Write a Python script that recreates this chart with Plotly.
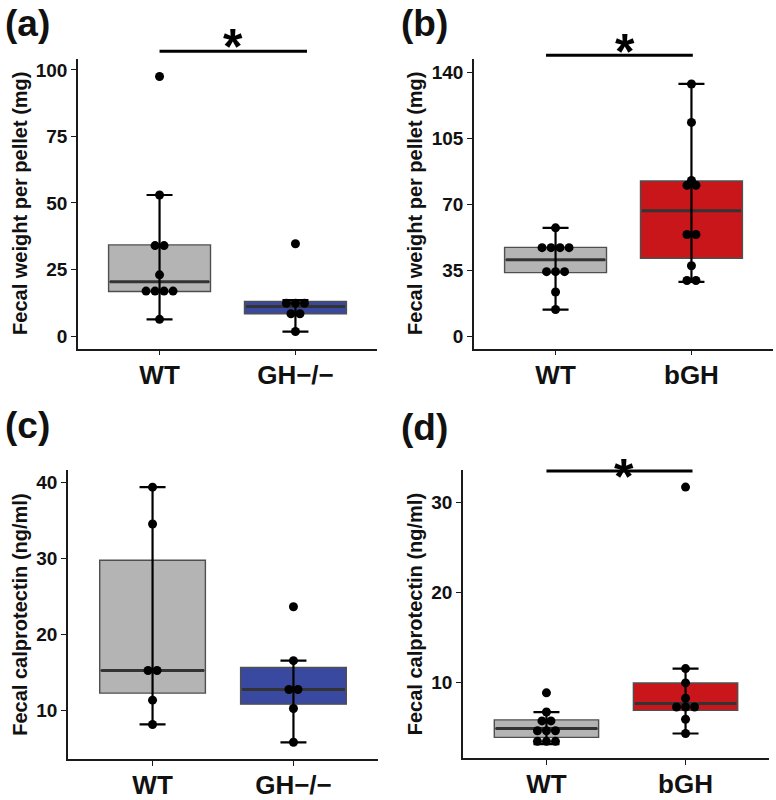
import numpy as np
import plotly.graph_objects as go

# ---------------- data ----------------
panel_letters = ["(a)", "(b)", "(c)", "(d)"]
y_titles = ["Fecal weight per pellet (mg)", "Fecal weight per pellet (mg)",
            "Fecal calprotectin (ng/ml)", "Fecal calprotectin (ng/ml)"]
categories_a = ["WT", "GH\u2212/\u2212"]
categories_b = ["WT", "bGH"]
categories_c = ["WT", "GH\u2212/\u2212"]
categories_d = ["WT", "bGH"]

a_wt = [97.5, 53.0, 33.5, 34.5, 23.0, 16.0, 16.6, 17.2, 17.8, 6.3]
a_gh = [34.7, 13.5, 12.5, 11.1, 9.0, 7.8, 1.7]
b_wt = [57.4, 46.0, 46.6, 47.2, 47.8, 33.5, 34.2, 34.9, 23.4, 14.1]
b_bgh = [133.7, 113.3, 82.5, 81.6, 78.4, 54.6, 53.2, 37.3, 30.2, 28.8]
c_wt = [39.35, 34.5, 15.0, 15.4, 11.3, 8.1]
c_gh = [23.6, 16.5, 12.5, 12.9, 10.2, 5.75]
d_wt = [8.8, 6.66, 5.45, 5.9, 4.25, 4.75, 4.9, 3.1, 3.4, 3.7]
d_bgh = [31.7, 11.5, 9.9, 8.2, 6.85, 7.2, 7.6, 5.86, 4.27]

yticks_a = [0, 25, 50, 75, 100]
yticks_b = [0, 35, 70, 105, 140]
yticks_c = [10, 20, 30, 40]
yticks_d = [10, 20, 30]

significant = [True, True, False, True]

# ---------------- styling / layout ----------------
W, H = 776, 800
FONT = "Liberation Sans, Arial, Helvetica, sans-serif"
GREY, BLUE, RED = "#b4b4b4", "#3a49a0", "#c9161b"
BOX_LINE = "#4f4f4f"
MEDIAN = "#333333"
DOT_PX = 9.0
BOX_W = 0.75
XRANGE = [-0.6, 1.6]

panels = [
    dict(cats=categories_a, groups=[a_wt, a_gh], colors=[GREY, BLUE], yticks=yticks_a,
         xpx=(78, 377), ypx=(60, 353), yrange=[-4.7, 104.0],
         title_x=20, label=(3, 24), sig=(0.0, 1.085, 52, 0.54, 48)),
    dict(cats=categories_b, groups=[b_wt, b_bgh], colors=[GREY, RED], yticks=yticks_b,
         xpx=(474, 773), ypx=(60, 353), yrange=[-6.6, 146.8],
         title_x=415, label=(399, 24), sig=(-0.07, 1.01, 56, 0.51, 53)),
    dict(cats=categories_c, groups=[c_wt, c_gh], colors=[GREY, BLUE], yticks=yticks_c,
         xpx=(68, 378), ypx=(476, 769), yrange=[3.5, 41.6],
         title_x=20, label=(3, 431), sig=None),
    dict(cats=categories_d, groups=[d_wt, d_bgh], colors=[GREY, RED], yticks=yticks_d,
         xpx=(463, 769), ypx=(476, 768), yrange=[1.5, 33.6],
         title_x=415, label=(399, 433), sig=(0.0, 1.05, 477, 0.56, 483)),
]


def box_stats(vals):
    v = np.sort(np.asarray(vals, dtype=float))
    q1, med, q3 = np.percentile(v, [25, 50, 75])
    iqr = q3 - q1
    lo = v[v >= q1 - 1.5 * iqr].min()
    hi = v[v <= q3 + 1.5 * iqr].max()
    return q1, med, q3, lo, hi


def dot_bins(vals, binwidth):
    """ggplot2 'dotdensity' binning: returns list of (center, count)."""
    v = np.sort(np.asarray(vals, dtype=float))
    bins, cur, end = [], [], -np.inf
    for x in v:
        if x >= end:
            if cur:
                bins.append(cur)
            cur = []
            end = x + binwidth
        cur.append(x)
    if cur:
        bins.append(cur)
    return [((min(b) + max(b)) / 2.0, len(b)) for b in bins]


fig = go.Figure()
layout = dict(width=W, height=H, margin=dict(l=0, r=0, t=0, b=0), autosize=False,
              paper_bgcolor="white", plot_bgcolor="white", showlegend=False,
              font=dict(family=FONT, color="black"), boxmode="overlay")
annotations, shapes = [], []

for i, p in enumerate(panels):
    k = "" if i == 0 else str(i + 1)
    xa, ya = "x" + k, "y" + k
    x0, x1 = p["xpx"]
    y0, y1 = p["ypx"]
    px_per_x = (x1 - x0) / (XRANGE[1] - XRANGE[0])
    dx = DOT_PX / px_per_x
    allv = np.concatenate([np.asarray(g, float) for g in p["groups"]])
    binwidth = (allv.max() - allv.min()) / 30.0

    for pos, (vals, col) in enumerate(zip(p["groups"], p["colors"])):
        q1, med, q3, lo, hi = box_stats(vals)
        fig.add_trace(go.Box(x=[pos], q1=[q1], median=[med], q3=[q3],
                             lowerfence=[q1], upperfence=[q3], width=BOX_W,
                             whiskerwidth=0, fillcolor=col,
                             line=dict(color=BOX_LINE, width=1.4),
                             boxpoints=False, hoverinfo="skip",
                             xaxis=xa, yaxis=ya))
        fig.add_trace(go.Scatter(x=[pos - BOX_W / 2 + 0.01, pos + BOX_W / 2 - 0.01],
                                 y=[med, med], mode="lines",
                                 line=dict(color=MEDIAN, width=3),
                                 hoverinfo="skip", xaxis=xa, yaxis=ya))
        fig.add_trace(go.Scatter(x=[pos], y=[med], mode="markers",
                                 marker=dict(size=1, color="rgba(0,0,0,0)"),
                                 error_y=dict(type="data", symmetric=False,
                                              array=[hi - med], arrayminus=[med - lo],
                                              width=13, thickness=2.2, color="black"),
                                 hoverinfo="skip", xaxis=xa, yaxis=ya))
        xs, ys = [], []
        for center, n in dot_bins(vals, binwidth):
            for j in range(n):
                xs.append(pos + (j - (n - 1) / 2.0) * dx)
                ys.append(center)
        fig.add_trace(go.Scatter(x=xs, y=ys, mode="markers",
                                 marker=dict(size=DOT_PX, color="black",
                                             line=dict(width=0)),
                                 hoverinfo="skip", xaxis=xa, yaxis=ya))

    layout["xaxis" + k] = dict(domain=[x0 / W, x1 / W], range=XRANGE, anchor=ya,
                               tickvals=[0, 1], ticktext=p["cats"],
                               showline=True, linecolor="#1a1a1a", linewidth=1.5,
                               ticks="outside", ticklen=5, tickwidth=1.3,
                               tickcolor="#1a1a1a", showgrid=False, zeroline=False,
                               ticklabelstandoff=-3,
                               tickfont=dict(size=26, family=FONT, weight="bold",
                                             color="#111"))
    layout["yaxis" + k] = dict(domain=[1 - y1 / H, 1 - y0 / H], range=p["yrange"],
                               anchor=xa, tickvals=p["yticks"],
                               ticktext=[str(t) for t in p["yticks"]],
                               showline=True, linecolor="#1a1a1a", linewidth=1.5,
                               ticks="outside", ticklen=5, tickwidth=1.3,
                               tickcolor="#1a1a1a", showgrid=False, zeroline=False,
                               tickfont=dict(size=19, family=FONT, weight="bold",
                                             color="#111"))
    # y-axis title
    annotations.append(dict(text=y_titles[i], textangle=-90, xref="paper", yref="paper",
                            x=p["title_x"] / W, y=1 - (y0 + y1) / 2 / H,
                            xanchor="center", yanchor="middle", showarrow=False,
                            font=dict(size=20, family=FONT, weight="bold", color="#111")))
    # panel letter
    lx, ly = p["label"]
    annotations.append(dict(text=panel_letters[i], xref="paper", yref="paper",
                            x=lx / W, y=1 - ly / H, xanchor="left", yanchor="middle",
                            showarrow=False,
                            font=dict(size=37, family=FONT, weight="bold", color="#111")))
    # significance bar
    if significant[i] and p["sig"] is not None:
        sx0, sx1, sy, starx, stary = p["sig"]
        shapes.append(dict(type="line", xref=xa, yref="paper", x0=sx0, x1=sx1,
                           y0=1 - sy / H, y1=1 - sy / H,
                           line=dict(color="black", width=3)))
        annotations.append(dict(text="*", xref=xa, yref="paper", x=starx,
                                y=1 - stary / H, xanchor="center", yanchor="middle",
                                showarrow=False,
                                font=dict(size=50, family=FONT, weight="bold",
                                          color="black")))

layout["annotations"] = annotations
layout["shapes"] = shapes
fig.update_layout(**layout)
fig.write_html("out.html", config={"displayModeBar": False},
               post_script="document.body.style.margin='0px';document.body.style.padding='0px';")
